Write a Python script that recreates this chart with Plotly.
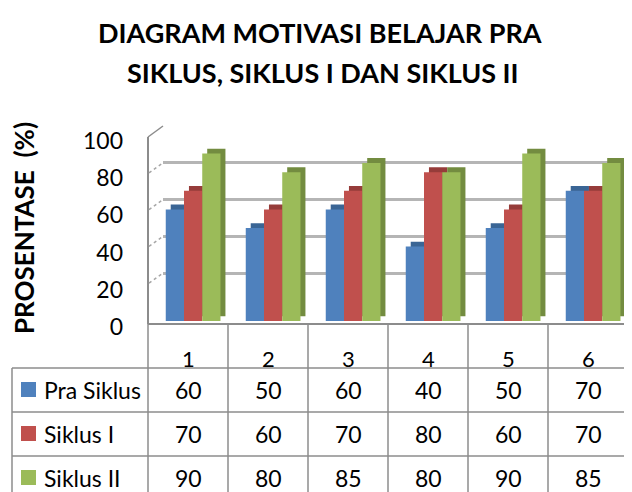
import plotly.graph_objects as go

# ---- data ----
categories = ["1", "2", "3", "4", "5", "6"]
series_names = ["Pra Siklus", "Siklus I", "Siklus II"]
pra_siklus = [60, 50, 60, 40, 50, 70]
siklus_1 = [70, 60, 70, 80, 60, 70]
siklus_2 = [90, 80, 85, 80, 90, 85]
y_ticks = [0, 20, 40, 60, 80, 100]
title_lines = ["DIAGRAM MOTIVASI BELAJAR PRA", "SIKLUS, SIKLUS I DAN SIKLUS II"]
y_title = "PROSENTASE&nbsp;&nbsp;(%)"

series_values = [pra_siklus, siklus_1, siklus_2]
front_colors = ["#4F81BD", "#C0504D", "#9BBB59"]
depth_colors = ["#3A6595", "#963C3A", "#738C40"]

W, H = 632, 492
OFF = 8  # page body margin offset
def px(x):
    return (x - OFF) / W
def py(y):
    return 1 - (y - OFF) / H

FONT = "Lato"
fig = go.Figure()

# back wall subplot (gridlines only)
fig.add_trace(go.Scatter(x=[0, 1], y=[0, 100], mode="markers", marker=dict(opacity=0),
                         hoverinfo="skip", showlegend=False, xaxis="x", yaxis="y"))

# bars: depth (side/top) faces first, then front faces
bar_w = 0.228
offsets = [-0.278, -0.05, 0.178]
dx, dy = 0.062, 2.6
for i, name in enumerate(series_names):
    fig.add_trace(go.Bar(x=categories, y=series_values[i], base=dy, offset=offsets[i] + dx,
                         width=bar_w, marker=dict(color=depth_colors[i], line=dict(width=0)),
                         showlegend=False, hoverinfo="skip", xaxis="x2", yaxis="y2"))
for i, name in enumerate(series_names):
    fig.add_trace(go.Bar(x=categories, y=series_values[i], name=name, offset=offsets[i],
                         width=bar_w, marker=dict(color=front_colors[i], line=dict(width=0)),
                         showlegend=False, xaxis="x2", yaxis="y2"))

shapes = []
grey = "#8C8C8C"
# floor
shapes.append(dict(type="path", xref="paper", yref="paper",
                   path=f"M {px(148)} {py(324)} L {px(626)} {py(324)} L {px(632)} {py(316)} L {px(163)} {py(311)} Z",
                   fillcolor="white", line=dict(color="rgba(0,0,0,0)"), layer="below"))
shapes.append(dict(type="line", xref="paper", yref="paper", x0=px(148), x1=px(626), y0=py(324), y1=py(324),
                   line=dict(color=grey, width=2)))
shapes.append(dict(type="line", xref="paper", yref="paper", x0=px(626), x1=px(632), y0=py(324), y1=py(317),
                   line=dict(color=grey, width=1.5)))
# left wall
shapes.append(dict(type="line", xref="paper", yref="paper", x0=px(148), x1=px(148), y0=py(324), y1=py(137),
                   line=dict(color=grey, width=2)))
shapes.append(dict(type="line", xref="paper", yref="paper", x0=px(148), x1=px(163), y0=py(137), y1=py(126),
                   line=dict(color=grey, width=1.5)))
# left-wall gridline slants (anchored at each back-wall tick)
for v in y_ticks[:-1]:
    shapes.append(dict(type="line", xref="paper", yref="y", ysizemode="pixel", yanchor=v,
                       x0=px(149), x1=px(163), y0=-10, y1=0,
                       line=dict(color="#A6A6A6", width=1.5, dash="dot")))

# table lines
col_edges = [148 + 80 * k for k in range(7)]
for k, xe in enumerate(col_edges):
    xe = min(xe, 629)
    shapes.append(dict(type="line", xref="paper", yref="paper", x0=px(xe), x1=px(xe), y0=py(324), y1=py(500),
                       line=dict(color=grey, width=1.5)))
shapes.append(dict(type="line", xref="paper", yref="paper", x0=px(12), x1=px(12), y0=py(368), y1=py(500),
                   line=dict(color=grey, width=1.5)))
row_lines = [368, 412, 456]
for ry in row_lines:
    shapes.append(dict(type="line", xref="paper", yref="paper", x0=px(12), x1=px(629), y0=py(ry), y1=py(ry),
                       line=dict(color=grey, width=1.5)))

annotations = []
# title
for t, yc, xc in zip(title_lines, [33, 72], [320, 323]):
    annotations.append(dict(x=px(xc), xref="paper", y=py(yc), yref="paper", text=t, showarrow=False,
                            font=dict(family=FONT, size=27, color="black", weight="bold"),
                            xanchor="center", yanchor="middle"))
# header numbers
for idx, c in enumerate(categories):
    annotations.append(dict(x=idx, xref="x2", y=py(358), yref="paper", text=c, showarrow=False,
                            font=dict(family=FONT, size=22, color="black"), xanchor="center", yanchor="middle"))
row_centers = [390, 434, 478]
for i, name in enumerate(series_names):
    yc = row_centers[i]
    shapes.append(dict(type="rect", xref="paper", yref="paper", x0=px(21), x1=px(36), y0=py(yc - 8), y1=py(yc + 7),
                       fillcolor=front_colors[i], line=dict(width=0)))
    annotations.append(dict(x=px(42), xref="paper", y=py(yc), yref="paper", text=name, showarrow=False,
                            font=dict(family=FONT, size=23, color="black"), xanchor="left", yanchor="middle"))
    for idx, v in enumerate(series_values[i]):
        annotations.append(dict(x=idx, xref="x2", y=py(yc), yref="paper", text=str(v), showarrow=False,
                                font=dict(family=FONT, size=23, color="black"), xanchor="center", yanchor="middle"))

fig.update_layout(
    width=W, height=H,
    margin=dict(l=0, r=0, t=0, b=0, pad=0, autoexpand=False),
    paper_bgcolor="white", plot_bgcolor="rgba(0,0,0,0)",
    barmode="overlay",
    showlegend=False,
    xaxis=dict(domain=[px(163), px(628)], range=[0, 1], visible=False, anchor="y", automargin=False),
    yaxis=dict(domain=[py(310), py(126)], range=[0, 100], tickvals=y_ticks, showticklabels=False,
               showgrid=True, gridcolor="#B5B5B5", gridwidth=3, zeroline=False, showline=False,
               ticks="", anchor="x", automargin=False),
    xaxis2=dict(domain=[px(148), px(628)], range=[-0.5, 5.5], type="category", showticklabels=False,
                showgrid=False, zeroline=False, showline=False, ticks="", anchor="y2", automargin=False),
    yaxis2=dict(domain=[py(321), py(135)], range=[0, 100], tickvals=y_ticks, showgrid=False,
                zeroline=False, showline=False, ticks="", anchor="x2", automargin=False,
                tickfont=dict(family=FONT, size=23, color="black"),
                ticklabelstandoff=24, ticklabelshift=6,
                title=dict(text=y_title, standoff=44,
                           font=dict(family=FONT, size=26, color="black", weight="bold"))),
    shapes=shapes,
    annotations=annotations,
)

fig.write_html("out.html")
